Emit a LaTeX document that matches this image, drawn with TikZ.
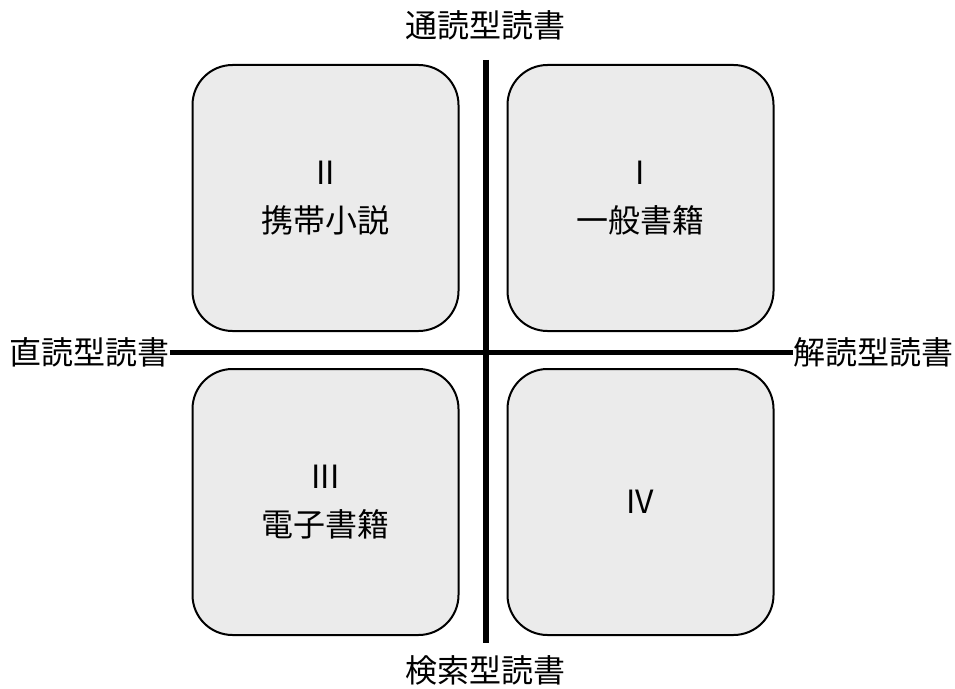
\documentclass[tikz,border=0pt]{standalone}
\usepackage{fontspec}
\setmainfont{Noto Sans CJK JP}
\definecolor{boxgray}{HTML}{EBEBEB}
\begin{document}
\begin{tikzpicture}[x=0.75pt,y=-0.75pt,
  quadrant/.style={draw,line width=1.5pt,fill=boxgray,rounded corners=30pt,minimum width=199.5pt,minimum height=199.5pt,align=center,font=\fontsize{24}{35.5}\selectfont},
  axislabel/.style={inner sep=0pt,font=\fontsize{24}{29}\selectfont}]
\useasboundingbox (0,0) rectangle (955,688);
\node[quadrant] (q2) at (325.5,198) {II\\携帯小説};
\node[quadrant] (q1) at (640.5,198) {I\\一般書籍};
\node[quadrant] (q3) at (325.5,502) {III\\電子書籍};
\node[quadrant] (q4) at (640.5,502) {IV};
\node[axislabel] (tsudoku) at (485,25) {通読型読書};
\node[axislabel] (kensaku) at (485,670) {検索型読書};
\node[axislabel] (chokudoku) at (89.5,352.5) {直読型読書};
\node[axislabel] (kaidoku) at (873.5,352.5) {解読型読書};
\coordinate (vtop) at (486,60);
\coordinate (vbot) at (486,643);
\draw[line width=4pt] (vtop) -- (vbot);
\draw[line width=4pt] (chokudoku.east) -- (kaidoku.west);
\end{tikzpicture}
\end{document}
